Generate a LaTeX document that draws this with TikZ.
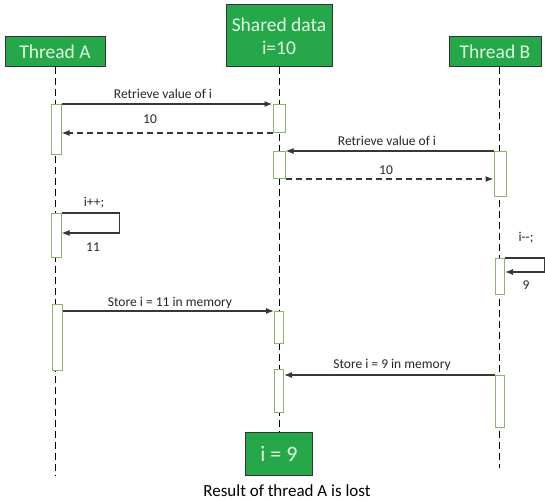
\documentclass[tikz,border=0pt]{standalone}
\usepackage{fontspec}
\setmainfont{Carlito}
\usetikzlibrary{arrows.meta, positioning, calc}
\definecolor{colBox}{RGB}{38, 168, 74}
\definecolor{colBoxTxt}{RGB}{225, 248, 225}
\definecolor{colAct}{RGB}{140, 180, 105}
\definecolor{colMsg}{RGB}{55, 55, 55}

\begin{document}
\begin{tikzpicture}[x=1pt, y=-1pt,
    thread/.style={draw=black!80, fill=colBox, text=colBoxTxt, line width=1pt,
        inner sep=0, align=center, font=\fontsize{19.5}{23}\selectfont},
    act/.style={draw=colAct, fill=white, minimum width=10, inner sep=0,
        line width=1pt, anchor=north},
    lifeline/.style={dash pattern=on 7pt off 4pt, line width=0.9pt, black},
    msg/.style={-{Latex[length=8pt, width=6pt]}, colMsg, line width=1.2pt},
    reply/.style={msg, dash pattern=on 6pt off 4pt},
    lbl/.style={inner sep=0, text=black!85, font=\fontsize{13.5}{15}\selectfont}]
    \useasboundingbox (0,0) rectangle (545,500);

    % --- Kopfboxen ---
    \node[thread, minimum width=100, minimum height=30] (thA) at (55,52) {Thread A};
    \node[thread, minimum width=106, minimum height=62] (shared) at (279,36) {Shared data\\i=10};
    \node[thread, minimum width=92, minimum height=30] (thB) at (495,52) {Thread B};
    \node[thread, minimum width=67, minimum height=43, font=\fontsize{22}{24}\selectfont] (res) at (279,453.5) {i = 9};
    \node[inner sep=0, font=\fontsize{17}{20}\selectfont] (cap) at (287,491) {Result of thread A is lost};

    % --- Lebenslinien ---
    \coordinate (endA) at (55,475);
    \coordinate (endB) at (499,468);
    \draw[lifeline] (thA.south) -- (endA);
    \draw[lifeline] (shared.south) -- (res.north);
    \draw[lifeline] (thB.south -| endB) -- (endB);

    % --- Aktivierungen ---
    \node[act, minimum height=50] (actA1) at (56,104) {};
    \node[act, minimum height=28, minimum width=12] (actS1) at (279,104) {};
    \node[act, minimum height=27, minimum width=12] (actS2) at (279,151) {};
    \node[act, minimum height=45, minimum width=12] (actB1) at (500,151) {};
    \node[act, minimum height=44] (actA2) at (56,213) {};
    \node[act, minimum height=36, minimum width=9] (actB2) at (500,258) {};
    \node[act, minimum height=66] (actA3) at (57,304) {};
    \node[act, minimum height=32, minimum width=9] (actS3) at (279,311) {};
    \node[act, minimum height=43, minimum width=9] (actS4) at (279,369) {};
    \node[act, minimum height=52, minimum width=9] (actB3) at (500,375) {};

    % --- Thread A liest ---
    \draw[msg] (actA1.north east) -- (actS1.north west);
    \node[lbl] (l1) at (163,94) {Retrieve value of i};
    \draw[reply] (actS1.south west) -- (actS1.south west -| actA1.east);
    \node[lbl] (l2) at (150,119) {10};

    % --- Thread B liest ---
    \draw[msg] (actB1.north west) -- (actS2.north east);
    \node[lbl] (l3) at (387,141) {Retrieve value of i};
    \draw[reply] (actS2.south east) -- (actS2.south east -| actB1.west);
    \node[lbl] (l4) at (386,170) {10};

    % --- i++ / i-- ---
    \coordinate (loopA) at ($(actA2.north east)+(58,0)$);
    \draw[msg] (actA2.north east) -- (loopA) |- ($(actA2.north east)+(0,20)$);
    \node[lbl] (l5) at (94,203) {i++;};
    \node[lbl] (l6) at (93,247) {11};
    \coordinate (loopB) at ($(actB2.north east)+(40,0)$);
    \draw[msg] (actB2.north east) -- (loopB) |- ($(actB2.north east)+(0,14)$);
    \node[lbl] (l7) at (526,238) {i-{}-;};
    \node[lbl] (l8) at (526,285) {9};

    % --- Speichern ---
    \draw[msg] (actA3.east |- actS3.north) -- (actS3.north west);
    \node[lbl] (l9) at (170,303) {Store i = 11 in memory};
    \draw[msg] (actB3.north west) -- (actB3.north west -| actS4.east);
    \node[lbl] (l10) at (392,365) {Store i = 9 in memory};
\end{tikzpicture}
\end{document}
